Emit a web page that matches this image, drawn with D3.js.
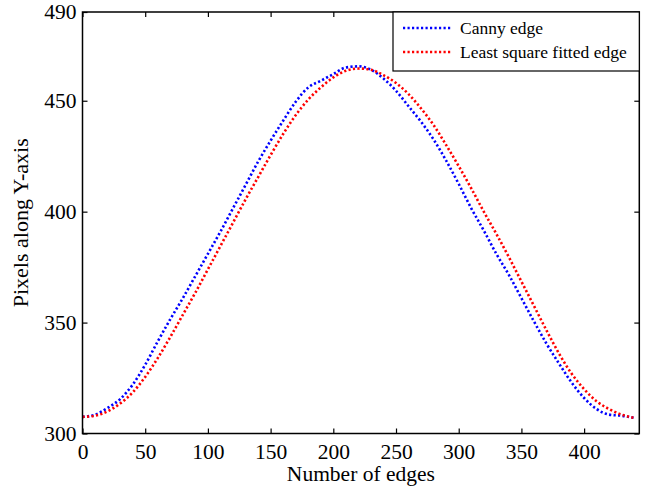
<!DOCTYPE html>
<html>
<head>
<meta charset="utf-8">
<script src="https://cdn.jsdelivr.net/npm/d3@7"></script>
<style>
  body { margin: 0; background: #fff; }
  svg { display: block; font-family: "Liberation Serif", "Times New Roman", serif; }
</style>
</head>
<body>
<script>
var edgeIdx = [0, 10, 20, 30, 40, 50, 60, 70, 80, 90, 100, 110, 120, 130, 140, 150, 160, 170, 180, 190,
  200, 210, 220, 230, 240, 250, 260, 270, 280, 290, 300, 310, 320, 330, 340, 350, 360, 370, 380, 390,
  400, 410, 420, 430, 440];
var cannyY = [307.5, 308.5, 311.5, 315.5, 322, 331, 341.5, 351.5, 361, 371, 381, 391, 401.5, 412, 422.5,
  432, 441, 449.5, 456, 459, 462, 465, 465.5, 464, 460, 454.5, 447.5, 440.5, 432.5, 423, 412.5, 401.5,
  391.5, 381, 371.5, 361, 350.5, 340.5, 331.5, 323, 316, 311, 308.5, 308, 307];
var fittedY = [307.5, 308, 310, 313.5, 318.5, 325.5, 334, 343.5, 353.5, 363.5, 374, 384.5, 395, 405.5,
  415.5, 425.5, 435, 443.5, 450.5, 456, 460.5, 463.5, 464.5, 464, 461.5, 458, 453, 446.5, 439, 430,
  420.5, 410.5, 400, 390, 379.5, 368.5, 357.5, 346.5, 336, 327, 320, 314.5, 311, 308.5, 307];

var xTicks = [0, 50, 100, 150, 200, 250, 300, 350, 400];
var yTicks = [300, 350, 400, 450, 490];
var seriesNames = ['Canny edge', 'Least square fitted edge'];
var seriesColors = ['#0000ff', '#ff0000'];

var W = 655, H = 491;
var margin = {top: 12, right: 15.7, bottom: 57.5, left: 82.5};
var width = W - margin.left - margin.right,
    height = H - margin.top - margin.bottom;

var svg = d3.select('body').append('svg')
    .attr('width', W)
    .attr('height', H);

var g = svg.append('g')
    .attr('transform', 'translate(' + margin.left + ',' + margin.top + ')');

var x = d3.scaleLinear().domain([0, 444]).range([0, width]);
var y = d3.scaleLinear().domain([300, 490]).range([height, 0]);

// curves
var line = d3.line()
    .x(function(d) { return x(d[0]); })
    .y(function(d) { return y(d[1]); })
    .curve(d3.curveMonotoneX);

[cannyY, fittedY].forEach(function(vals, i) {
  var pts = edgeIdx.map(function(e, k) { return [e, vals[k]]; });
  g.append('path')
    .datum(pts)
    .attr('d', line)
    .style('fill', 'none')
    .style('stroke', seriesColors[i])
    .style('stroke-width', 2.6)
    .style('stroke-dasharray', '2.2,2.3');
});

// axes, ticks inside like matlab
var tickLen = 5;
g.append('g')
  .attr('transform', 'translate(0,' + height + ')')
  .call(d3.axisBottom(x).tickValues(xTicks).tickSizeInner(-tickLen).tickSizeOuter(0).tickPadding(10))
  .call(function(a) { a.select('.domain').remove(); });
g.append('g')
  .call(d3.axisTop(x).tickValues(xTicks).tickSizeInner(-tickLen).tickSizeOuter(0).tickFormat(''))
  .call(function(a) { a.select('.domain').remove(); });
g.append('g')
  .call(d3.axisLeft(y).tickValues(yTicks).tickSizeInner(-tickLen).tickSizeOuter(0).tickPadding(6))
  .call(function(a) { a.select('.domain').remove(); });
g.append('g')
  .attr('transform', 'translate(' + width + ',0)')
  .call(d3.axisRight(y).tickValues(yTicks).tickSizeInner(-tickLen).tickSizeOuter(0).tickFormat(''))
  .call(function(a) { a.select('.domain').remove(); });

g.selectAll('.tick line').style('stroke', '#000').style('stroke-width', 1.2);
g.selectAll('.tick text')
  .style('font-family', '"Liberation Serif", "Times New Roman", serif')
  .style('font-size', '21.5px')
  .style('fill', '#000');

// box
g.append('rect')
  .attr('width', width)
  .attr('height', height)
  .style('fill', 'none')
  .style('stroke', '#000')
  .style('stroke-width', 1.5);

// axis labels
svg.append('text')
  .attr('x', margin.left + width / 2)
  .attr('y', 481)
  .attr('text-anchor', 'middle')
  .style('font-size', '21.5px')
  .text('Number of edges');

svg.append('text')
  .attr('transform', 'translate(28,' + (margin.top + height / 2) + ') rotate(-90)')
  .attr('text-anchor', 'middle')
  .style('font-size', '22px')
  .text('Pixels along Y-axis');

// legend
var legend = svg.append('g')
  .attr('transform', 'translate(393,12)');
legend.append('rect')
  .attr('width', 246.3)
  .attr('height', 59)
  .style('fill', '#fff')
  .style('stroke', '#000')
  .style('stroke-width', 1.2);

seriesNames.forEach(function(name, i) {
  var ly = 16 + i * 24;
  legend.append('line')
    .attr('x1', 10).attr('x2', 59)
    .attr('y1', ly).attr('y2', ly)
    .style('stroke', seriesColors[i])
    .style('stroke-width', 2.6)
    .style('stroke-dasharray', '2.2,2.3');
  legend.append('text')
    .attr('x', 67)
    .attr('y', ly + 6)
    .style('font-size', '17.5px')
    .text(name);
});
</script>
</body>
</html>
